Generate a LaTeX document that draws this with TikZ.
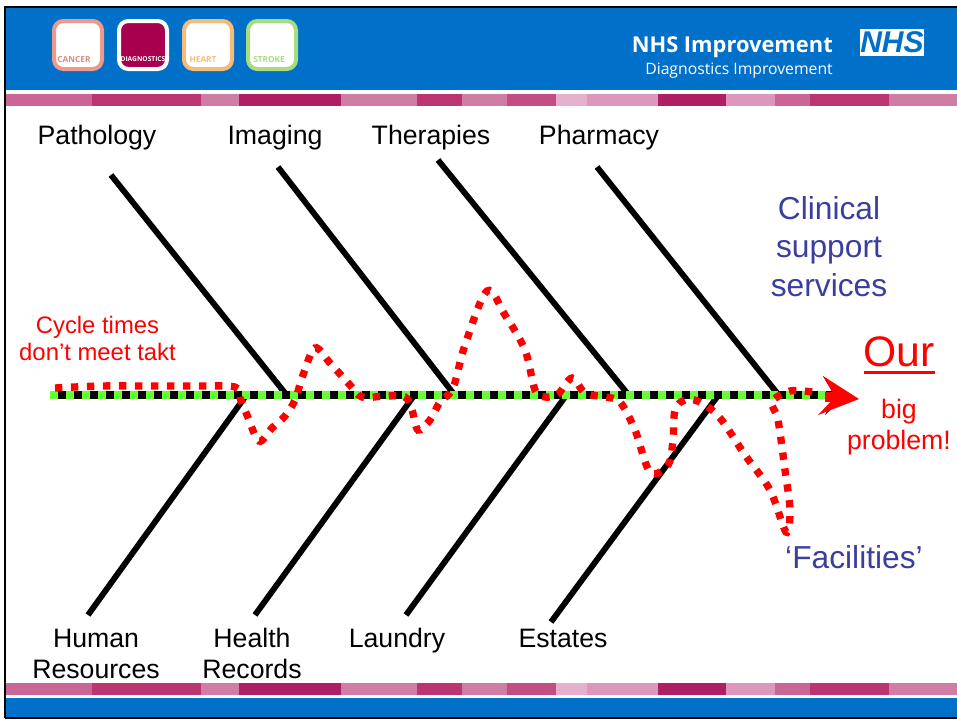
\documentclass[tikz,border=0pt]{standalone}
\usepackage{fontspec}
\setmainfont{Liberation Sans}
\newfontfamily\hdfont{Open Sans}
\usetikzlibrary{calc}
\definecolor{nhsblue}{HTML}{0070C8}
\definecolor{pA}{HTML}{C96696}
\definecolor{pB}{HTML}{BA3572}
\definecolor{pC}{HTML}{D07DA6}
\definecolor{pD}{HTML}{AE1E62}
\definecolor{pE}{HTML}{C24E84}
\definecolor{pF}{HTML}{E5B0CC}
\definecolor{pG}{HTML}{DE97BC}
\definecolor{txtblue}{HTML}{3A3F9E}
\definecolor{fishgreen}{HTML}{66FF33}
\definecolor{bCancer}{HTML}{EE9A8A}
\definecolor{bHeart}{HTML}{F5BC78}
\definecolor{bStroke}{HTML}{A8DC80}
\definecolor{bDiag}{HTML}{A8004F}
\tikzset{
  lbl/.style={font=\fontsize{20}{23.25}\selectfont,text=black,align=center,inner sep=0pt},
  bluelbl/.style={font=\fontsize{23.8}{29}\selectfont,text=txtblue,align=center,inner sep=0pt},
  redlbl/.style={font=\fontsize{20}{23.25}\selectfont,text=red,align=center,inner sep=0pt},
  bone/.style={line width=4.4pt,black},
  badge/.style={rounded corners=7pt,line width=3pt,minimum width=36pt,minimum height=36pt,inner sep=0pt},
  badgetxt/.style={font=\hdfont\fontsize{6.2}{7}\selectfont\bfseries,inner sep=0pt},
}
\begin{document}
\begin{tikzpicture}[x=0.75pt,y=-0.75pt]
\useasboundingbox (0,0) rectangle (957,719);
\fill[white] (0,0) rectangle (957,719);
% header and footer
\fill[nhsblue] (5,8) rectangle (957,90);
\fill[nhsblue] (5,698) rectangle (957,717);
\foreach \ya/\yb in {94/106,683/695}{
  \foreach \xa/\xb/\c in {6/92/pA,92/201/pB,201/239/pC,239/341/pD,341/417/pC,417/462/pB,462/507/pC,507/556/pE,556/587/pF,587/658/pG,658/726/pD,726/775/pG,775/810/pA,810/889/pB,889/957/pC}{
    \fill[\c] (\xa,\ya) rectangle (\xb,\yb);
  }
}
\draw[black,line width=2.2pt] (5,717.5) -- (5,7) -- (957,7);
\draw[black,line width=1.5pt] (5,717.5) -- (957,717.5);
% badges
\node[badge,draw=bCancer,fill=white] (bcancer) at (78,45) {};
\node[badge,draw=white,fill=bDiag] (bdiag) at (143,45) {};
\node[badge,draw=bHeart,fill=white] (bheart) at (208,45) {};
\node[badge,draw=bStroke,fill=white] (bstroke) at (272,45) {};
\node[badgetxt,text=bCancer!90!black] (tcancer) at (74,59.5) {CANCER};
\node[badgetxt,text=white,font=\hdfont\fontsize{5}{6}\selectfont\bfseries] (tdiag) at (143,59.5) {DIAGNOSTICS};
\node[badgetxt,text=bHeart] (theart) at (203,59.5) {HEART};
\node[badgetxt,text=bStroke] (tstroke) at (269,59.5) {STROKE};
% header text
\node[font=\hdfont\fontsize{16.4}{18}\selectfont\bfseries,text=white,anchor=base east,inner sep=0pt] (nhsimp) at (833,52) {NHS Improvement};
\node[font=\hdfont\fontsize{11.8}{13}\selectfont,text=white,anchor=base east,inner sep=0pt] (diagimp) at (833,74) {Diagnostics Improvement};
\node[fill=white,minimum width=48pt,minimum height=20pt,inner sep=0pt,text=nhsblue,font=\fontsize{22.5}{24}\selectfont\bfseries\itshape] (nhslogo) at (892,42.5) {NHS};
% fishbone
\coordinate (sL) at (50,395);
\coordinate (sR) at (836,395);
\coordinate (t1) at (111,175); \coordinate (j1) at (285,393);
\coordinate (t2) at (278,167); \coordinate (j2) at (453,393);
\coordinate (t3) at (438,160); \coordinate (j3) at (627,393);
\coordinate (t4) at (597,167); \coordinate (j4) at (777,393);
\coordinate (b1) at (88,615);  \coordinate (k1) at (245,397);
\coordinate (b2) at (255,615); \coordinate (k2) at (413,397);
\coordinate (b3) at (406,615); \coordinate (k3) at (565,397);
\coordinate (b4) at (551,622); \coordinate (k4) at (717,397);
\foreach \a/\b in {t1/j1,t2/j2,t3/j3,t4/j4,b1/k1,b2/k2,b3/k3,b4/k4}{\draw[bone] (\a) -- (\b);}
\draw[black,line width=6pt] (sL) -- (sR);
\draw[fishgreen,line width=6pt,dash pattern=on 6pt off 6pt] (sL) -- (sR);
% arrowhead
\fill[black] (823,376) -- (846,395) -- (825,415) -- (835,396) -- cycle;
\fill[red] (823,376) -- (859,399) -- (818,415) -- (835,397) -- cycle;
\fill[red] (825,392) rectangle (838,402);
% red dotted trace
\draw[red,line width=5.5pt,dash pattern=on 5.5pt off 6.5pt,smooth,tension=0.55] plot coordinates {
 (55,388) (100,386) (150,386) (200,386) (235,387) (240,398) (247,415) (259,441) (272,428) (285,416) (295,400) (303,375) (315,348) (330,363) (350,385) (362,397) (385,396) (405,397) (412,410) (418,430) (430,420) (440,402) (453,388) (465,345) (487,291) (505,315) (525,350) (535,390) (545,397) (558,394) (572,378) (585,393) (605,397) (620,402) (635,430) (650,472) (668,465) (673,440) (675,410) (685,400) (700,402) (720,418) (745,455) (770,490) (786,532) (790,510) (785,470) (778,420) (772,402) (790,391) (812,392)};
% labels
\node[lbl,anchor=base] (pathology) at (97,144) {Pathology};
\node[lbl,anchor=base] (imaging) at (275,144) {Imaging};
\node[lbl,anchor=base] (therapies) at (431,144) {Therapies};
\node[lbl,anchor=base] (pharmacy) at (599,144) {Pharmacy};
\node[lbl] (hr) at (96,654) {Human\\Resources};
\node[lbl] (records) at (252,653.5) {Health\\Records};
\node[lbl,anchor=base] (laundry) at (397,647) {Laundry};
\node[lbl,anchor=base] (estates) at (563,647) {Estates};
\node[bluelbl] (clinical) at (829,246.5) {Clinical\\support\\services};
\node[bluelbl] (facilities) at (854,557) {‘Facilities’};
\node[redlbl,font=\fontsize{17.9}{20}\selectfont] (cycle) at (97.5,338.5) {Cycle times\\don’t meet takt};
\node[font=\fontsize{32}{36}\selectfont,text=red,inner sep=0pt] (our) at (899,352) {Our};
\draw[red,line width=1.6pt] (864,372.5) -- (935,372.5);
\node[redlbl] (big) at (899,427) {big\\problem!};
\end{tikzpicture}
\end{document}
